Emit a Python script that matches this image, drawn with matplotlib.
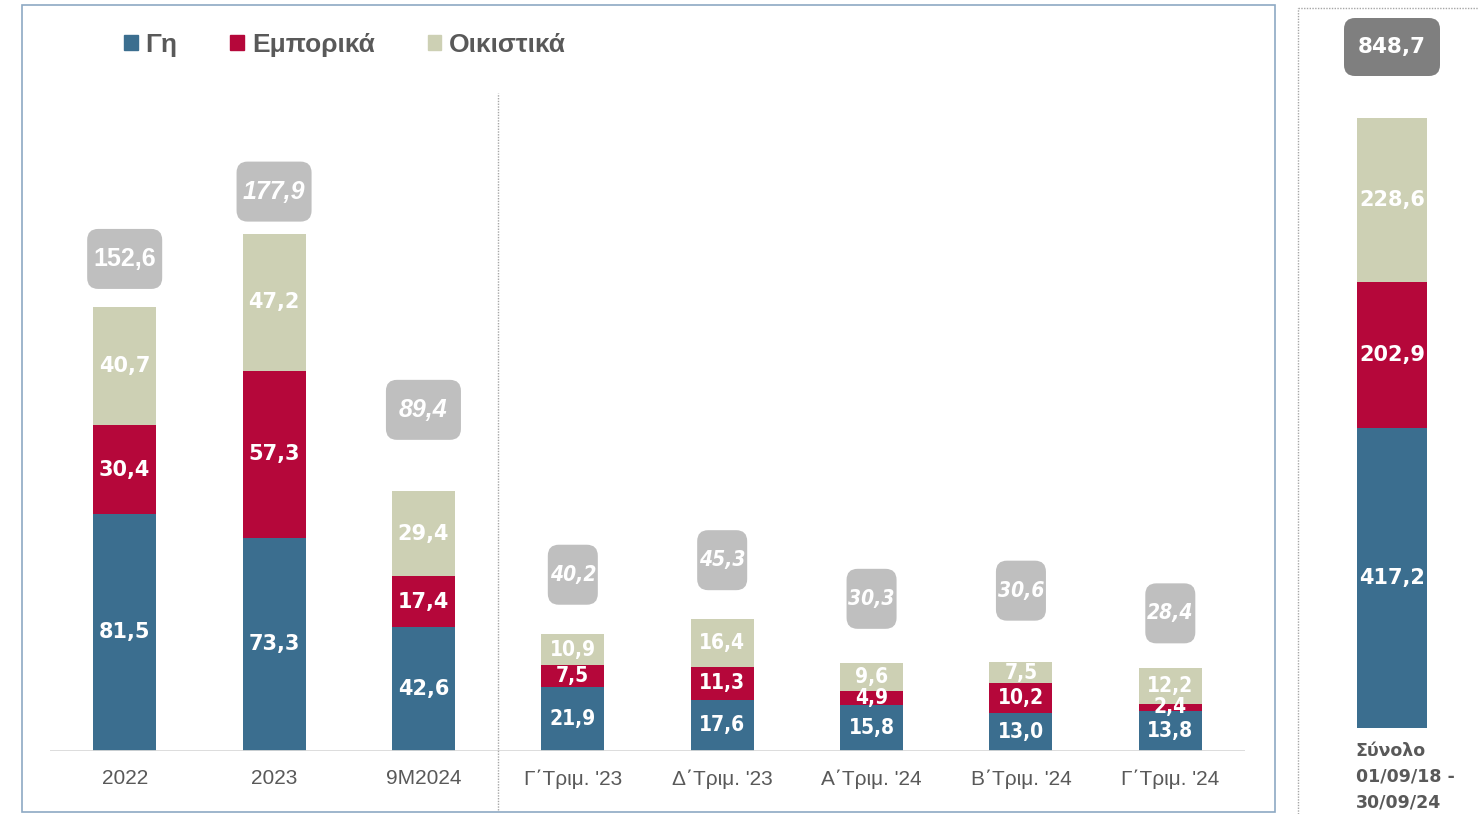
"""
Stacked bars of investments by category (land / commercial / residential)
"""

import matplotlib
matplotlib.use('Agg')
import matplotlib.pyplot as plt
import matplotlib.font_manager as fm
from matplotlib.patches import FancyBboxPatch, Rectangle
from matplotlib.lines import Line2D

# data
categories = ['2022', '2023', '9M2024', "Γ΄Τριμ. '23", "Δ΄Τριμ. '23",
              "Α΄Τριμ. '24", "Β΄Τριμ. '24", "Γ΄Τριμ. '24"]
land = [81.5, 73.3, 42.6, 21.9, 17.6, 15.8, 13.0, 13.8]
commercial = [30.4, 57.3, 17.4, 7.5, 11.3, 4.9, 10.2, 2.4]
residential = [40.7, 47.2, 29.4, 10.9, 16.4, 9.6, 7.5, 12.2]
totals = [152.6, 177.9, 89.4, 40.2, 45.3, 30.3, 30.6, 28.4]

sum_label = 'Σύνολο\n01/09/18 -\n30/09/24'
sum_land = 417.2
sum_commercial = 202.9
sum_residential = 228.6
sum_total = 848.7

series_names = ['Γη', 'Εμπορικά', 'Οικιστικά']

# style
C_LAND = '#3B6E8F'
C_COMM = '#B5073A'
C_RES = '#CDD0B4'
C_BOX = '#BFBFBF'
C_BOX_DARK = '#7F7F7F'
C_TEXT = '#595959'
C_DOT = '#A6A6A6'

W, H = 1479, 814
ARIAL = 'Liberation Sans'
VERD = 'DejaVu Sans'


def find_narrow(style, name=None):
    # look for an installed condensed / narrow bold sans face
    for f in fm.fontManager.ttflist:
        if 'Serif' in f.name or 'Mono' in f.name:
            continue
        if name is not None and f.name != name:
            continue
        narrow = ('Narrow' in f.name or 'Condensed' in f.name
                  or f.stretch in ('condensed', 'semi-condensed'))
        bold = f.weight in ('bold', 'heavy') or (isinstance(f.weight, int) and f.weight >= 600)
        if narrow and bold and f.style == style:
            return f
    return None


nf = find_narrow('normal')
nf_i = None
if nf is not None:
    nf_i = find_narrow('italic', nf.name) or find_narrow('oblique', nf.name)

if nf is not None:
    q_seg = dict(fontproperties=fm.FontProperties(fname=nf.fname), fontsize=15)
else:
    q_seg = dict(family=ARIAL, fontweight='bold', fontsize=14.5)
if nf_i is not None:
    q_tot = dict(fontproperties=fm.FontProperties(fname=nf_i.fname), fontsize=15)
else:
    q_tot = dict(family=ARIAL, fontweight='bold', style='italic', fontsize=14.5)

# gap (px) from bar top to the centre of its total box
gaps = [48, 42, 81, 59, 59, 64, 71, 55]
box_w = [75, 75, 75, 50, 50, 50, 50, 50]
italic = [False, True, True, True, True, True, True, True]


def fmt(v):
    return f'{v:.1f}'.replace('.', ',')


def px_ax(left, top, right, bottom):
    return [left / W, 1 - bottom / H, (right - left) / W, (bottom - top) / H]


fig = plt.figure(figsize=(W / 100, H / 100), dpi=100)

# main panel frame
fig.add_artist(Rectangle((22 / W, 1 - 812 / H), (1275 - 22) / W, (812 - 5) / H,
                         transform=fig.transFigure, fill=False,
                         edgecolor='#8DA9C4', linewidth=1.2))

# ---- main axes
ax = fig.add_axes(px_ax(50, 93, 1245, 751))
ax.set_xlim(-0.5, len(categories) - 0.5)
sy = 2.91
ax.set_ylim(0, 658 / sy)
sx = 1195 / len(categories)
x = list(range(len(categories)))
bw = 63 / sx

bottom2 = [a + b for a, b in zip(land, commercial)]
ax.bar(x, land, bw, color=C_LAND)
ax.bar(x, commercial, bw, bottom=land, color=C_COMM)
ax.bar(x, residential, bw, bottom=bottom2, color=C_RES)

for i in x:
    if i < 3:
        fp = dict(family=VERD, fontsize=15, fontweight='bold')
    else:
        fp = q_seg
    for val, base in ((land[i], 0), (commercial[i], land[i]), (residential[i], bottom2[i])):
        ax.text(i, base + val / 2, fmt(val), ha='center', va='center',
                color='white', **fp)

    top = land[i] + commercial[i] + residential[i]
    cy = top + gaps[i] / sy
    w = box_w[i] / sx
    h = 60 / sy
    ax.add_patch(FancyBboxPatch((i - w / 2, cy - h / 2), w, h,
                                boxstyle='round,pad=0,rounding_size=%f' % (11 / sx),
                                mutation_aspect=sx / sy, facecolor=C_BOX,
                                edgecolor='none', clip_on=False))
    if i < 3:
        ax.text(i, cy, fmt(totals[i]), ha='center', va='center', color='white',
                family=ARIAL, fontsize=18, fontweight='bold',
                style='italic' if italic[i] else 'normal')
    else:
        ax.text(i, cy, fmt(totals[i]), ha='center', va='center', color='white', **q_tot)

ax.axhline(0, color='#D9D9D9', linewidth=2)
ax.axvline(2.5, ymin=-59 / 658, ymax=1, color=C_DOT, linestyle=(0, (1, 1)),
           linewidth=1, clip_on=False)
ax.set_xticks(x)
ax.set_xticklabels(categories, family=ARIAL, fontsize=15, color=C_TEXT)
ax.tick_params(axis='x', length=0, pad=13)
ax.set_yticks([])
for s in ax.spines.values():
    s.set_visible(False)

# legend
handles = [Rectangle((0, 0), 1, 1, color=c) for c in (C_LAND, C_COMM, C_RES)]
leg = fig.legend(handles, series_names, loc='center left',
                 bbox_to_anchor=(124 / W, 1 - 45 / H), ncol=3, frameon=False,
                 borderpad=0, borderaxespad=0, handlelength=0.52,
                 handleheight=0.52, handletextpad=0.3, columnspacing=2.0,
                 prop=dict(family=ARIAL, size=19, weight='bold'))
for t in leg.get_texts():
    t.set_color(C_TEXT)

# ---- right panel (overall total)
fig.add_artist(Line2D([1298 / W, 1298 / W], [0, 1 - 8 / H], transform=fig.transFigure,
                      color=C_DOT, linestyle=(0, (1, 1)), linewidth=1))
fig.add_artist(Line2D([1298 / W, 1], [1 - 8 / H, 1 - 8 / H], transform=fig.transFigure,
                      color=C_DOT, linestyle=(0, (1, 1)), linewidth=1))

ax2 = fig.add_axes(px_ax(1317, 10, 1467, 728))
ax2.set_xlim(-0.5, 0.5)
sy2 = 610 / sum_total
ax2.set_ylim(0, 718 / sy2)
sx2 = 150
bw2 = 70 / sx2
ax2.bar([0], [sum_land], bw2, color=C_LAND)
ax2.bar([0], [sum_commercial], bw2, bottom=[sum_land], color=C_COMM)
ax2.bar([0], [sum_residential], bw2, bottom=[sum_land + sum_commercial], color=C_RES)
for val, base in ((sum_land, 0), (sum_commercial, sum_land),
                  (sum_residential, sum_land + sum_commercial)):
    ax2.text(0, base + val / 2, fmt(val), ha='center', va='center', color='white',
             family=VERD, fontsize=15, fontweight='bold')

cy2 = sum_land + sum_commercial + sum_residential + 71 / sy2
w2, h2 = 96 / sx2, 58 / sy2
ax2.add_patch(FancyBboxPatch((-w2 / 2, cy2 - h2 / 2), w2, h2,
                             boxstyle='round,pad=0,rounding_size=%f' % (11 / sx2),
                             mutation_aspect=sx2 / sy2, facecolor=C_BOX_DARK,
                             edgecolor='none', clip_on=False))
ax2.text(0, cy2, fmt(sum_total), ha='center', va='center', color='white',
         family=VERD, fontsize=15.5, fontweight='bold')

ax2.annotate(sum_label, xy=(-bw2 / 2, 0), xytext=(-1, -10), textcoords='offset points',
             ha='left', va='top', color=C_TEXT, family=VERD, fontsize=12.5,
             fontweight='bold', linespacing=1.55, annotation_clip=False)
ax2.set_xticks([])
ax2.set_yticks([])
for s in ax2.spines.values():
    s.set_visible(False)

fig.savefig('out.png', dpi=100)
plt.close(fig)
